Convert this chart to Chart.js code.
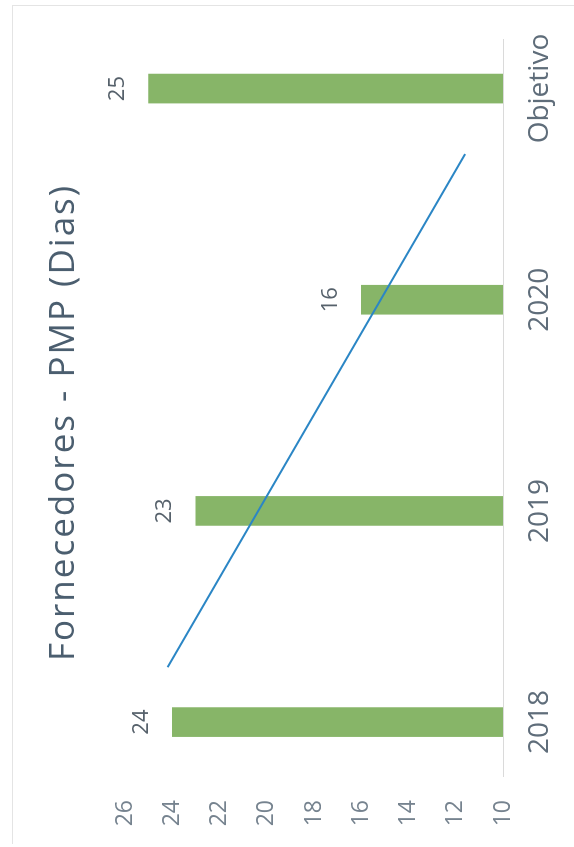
<!DOCTYPE html>
<html>
<head>
<meta charset="utf-8">
<title>Fornecedores - PMP (Dias)</title>
<script src="https://cdn.jsdelivr.net/npm/chart.js@4.4.1/dist/chart.umd.min.js"></script>
<style>
  html, body { margin: 0; padding: 0; background: #fff; }
  body { width: 574px; height: 847px; position: relative; overflow: hidden; }
  .frame {
    position: absolute; left: 12px; top: 5px; width: 600px; height: 838px;
    border-left: 1px solid #e4e4e4; border-top: 1px solid #e4e4e4;
  }
  /* the chart is laid out landscape and turned a quarter turn */
  #pmpChart {
    position: absolute; left: 0; top: 0;
    transform-origin: 0 0;
    transform: translate(0, 847px) rotate(-90deg);
  }
</style>
</head>
<body>
<div class="frame"></div>
<canvas id="pmpChart" width="847" height="574"></canvas>
<script>
const chartTitle = 'Fornecedores - PMP (Dias)';
const categories = ['2018', '2019', '2020', 'Objetivo'];
const pmpDays = [24, 23, 16, 25];
// trend line end points (category position, days)
const trendX = [0.26, 2.69];
const trendY = [24.2, 11.6];
const valueTicks = { min: 10, max: 26, step: 2 };

const FONT = "'Open Sans', 'Noto Sans', sans-serif";

// title drawn by hand so it can be letter-spaced
const spacedTitle = {
    id: 'spacedTitle',
    afterDraw(chart) {
        const ctx = chart.ctx;
        ctx.save();
        ctx.font = '35px ' + FONT;
        ctx.letterSpacing = '2px';
        ctx.fillStyle = '#4b5e6f';
        ctx.textAlign = 'center';
        ctx.textBaseline = 'middle';
        ctx.fillText(chartTitle, chart.width / 2 + 1, 64);
        ctx.restore();
    }
};

// value labels above each bar
const barLabels = {
    id: 'barLabels',
    afterDatasetsDraw(chart) {
        const ctx = chart.ctx;
        const meta = chart.getDatasetMeta(1);
        ctx.save();
        ctx.font = '22px ' + FONT;
        ctx.fillStyle = '#56616b';
        ctx.textAlign = 'center';
        ctx.textBaseline = 'middle';
        meta.data.forEach(function(bar, i) {
            ctx.fillText(String(pmpDays[i]), bar.x, bar.y - 31);
        });
        ctx.restore();
    }
};

const ctx = document.getElementById('pmpChart').getContext('2d');
const pmpChart = new Chart(ctx, {
    data: {
        datasets: [{
            type: 'line',
            label: 'Tendência',
            data: trendX.map(function(x, i) { return { x: x, y: trendY[i] }; }),
            borderColor: '#2b86c5',
            borderWidth: 2,
            pointRadius: 0,
            order: 0
        }, {
            type: 'bar',
            label: 'PMP',
            data: pmpDays.map(function(v, i) { return { x: i, y: v }; }),
            backgroundColor: '#87b568',
            barThickness: 29,
            order: 1
        }]
    },
    options: {
        responsive: false,
        animation: false,
        devicePixelRatio: 1,
        layout: { padding: { top: 125, right: 40, left: 0, bottom: 0 } },
        plugins: {
            legend: { display: false },
            tooltip: { enabled: false },
            title: { display: false }
        },
        scales: {
            x: {
                type: 'linear',
                offset: false,
                min: -0.26,
                max: 3.23,
                grid: { display: false },
                border: { display: true, color: '#dadada', width: 1 },
                afterBuildTicks: function(scale) {
                    scale.ticks = categories.map(function(_, i) { return { value: i }; });
                },
                afterFit: function(scale) { scale.height = 71; },
                ticks: {
                    padding: 12,
                    color: '#5f6d7a',
                    font: { family: FONT, size: 28 },
                    callback: function(value) { return categories[value]; }
                }
            },
            y: {
                min: valueTicks.min,
                max: valueTicks.max,
                grid: { display: false },
                border: { display: false },
                afterFit: function(scale) { scale.width = 70; },
                ticks: {
                    stepSize: valueTicks.step,
                    padding: 15,
                    color: '#76838f',
                    font: { family: FONT, size: 23 }
                }
            }
        }
    },
    plugins: [spacedTitle, barLabels]
});
</script>
</body>
</html>
